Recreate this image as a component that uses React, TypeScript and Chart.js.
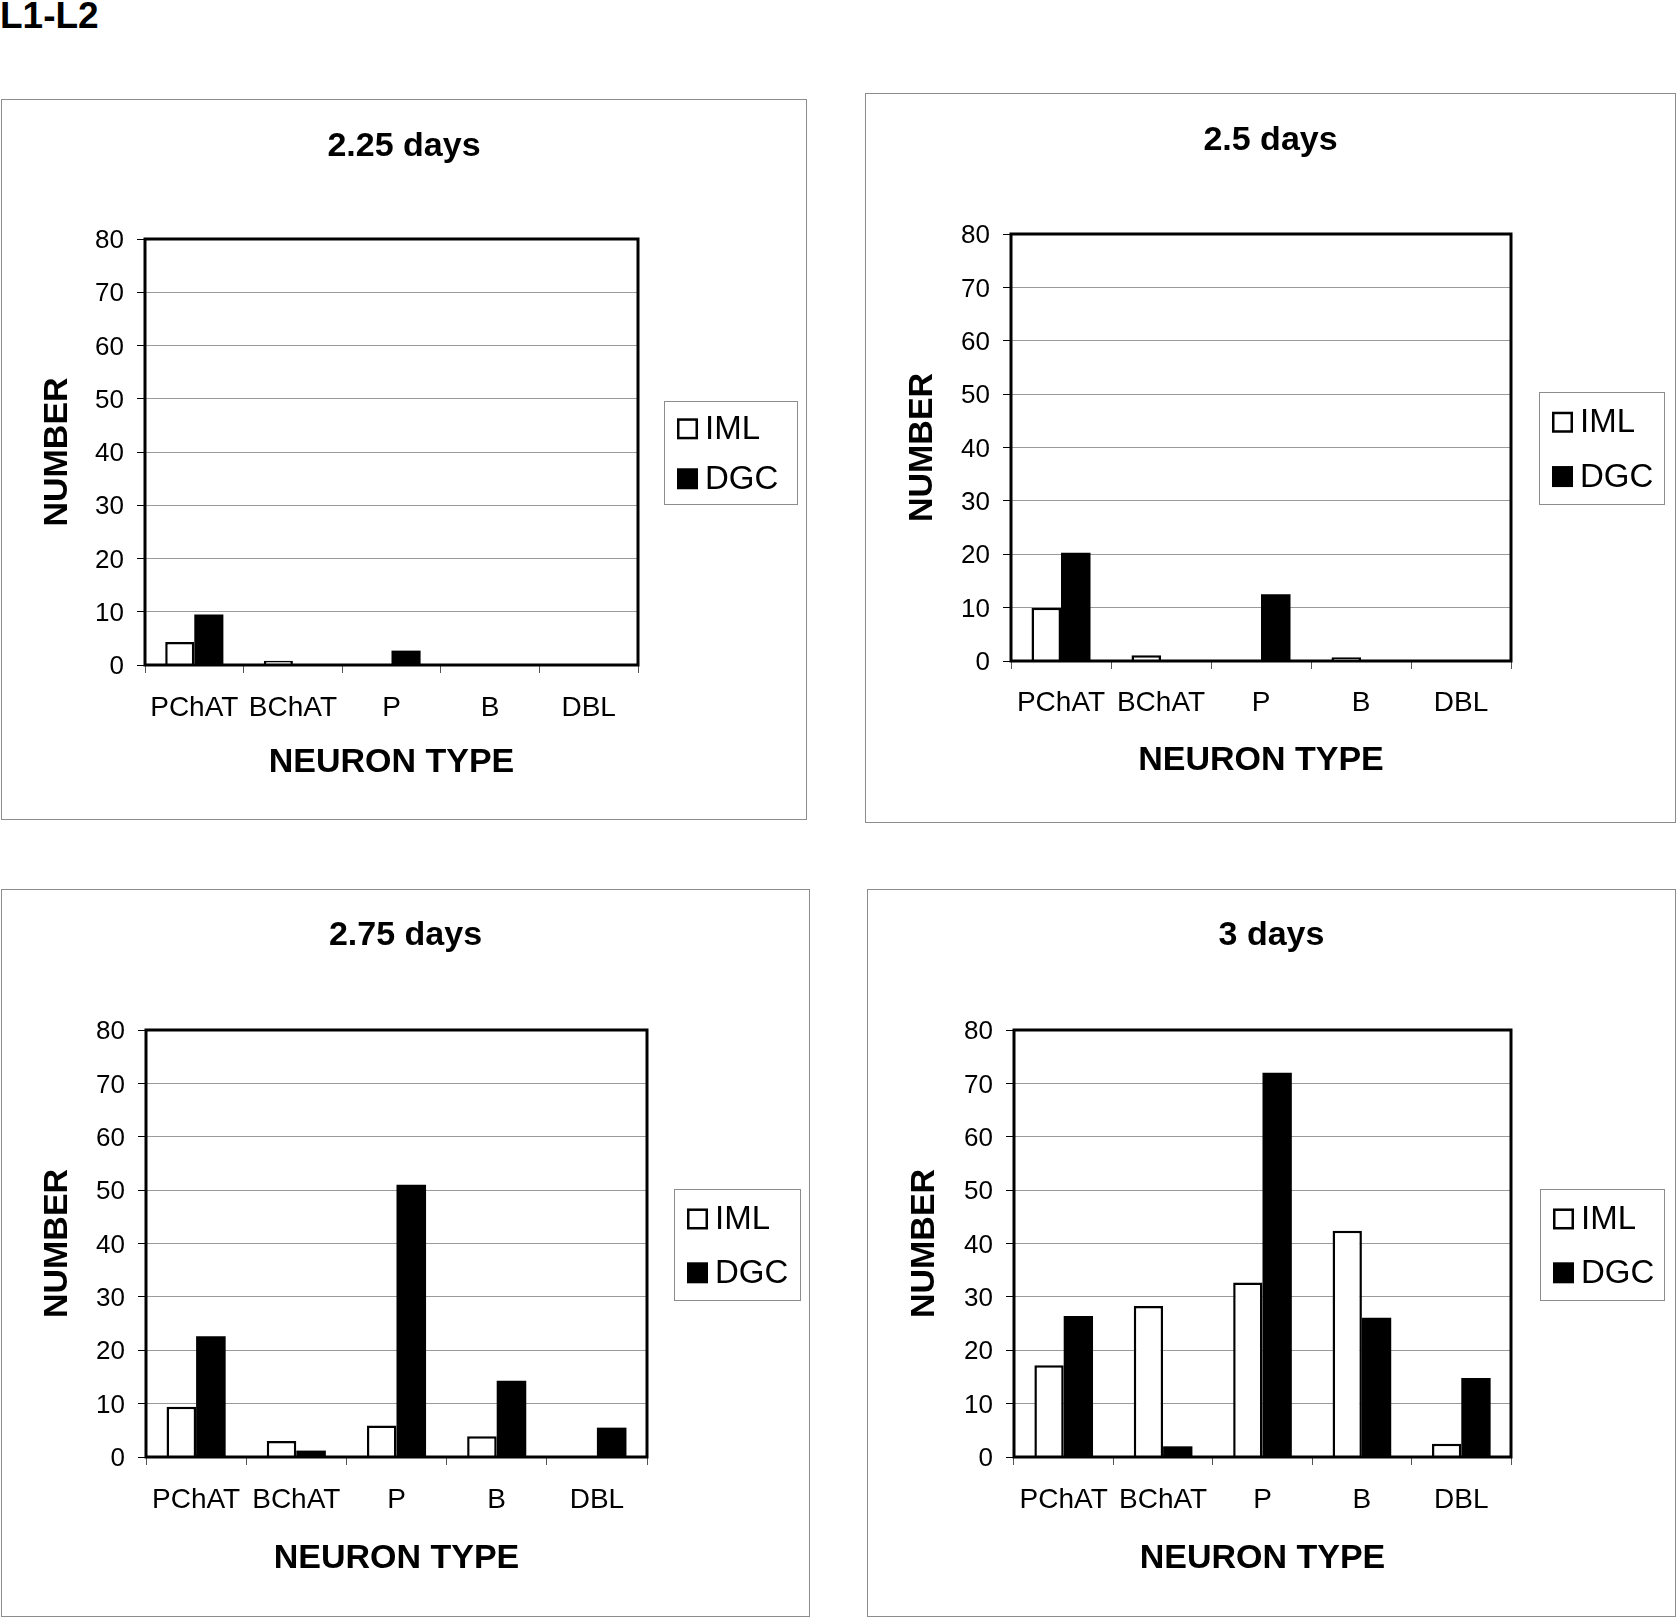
import React, { useEffect, useRef } from "react";
import { Chart, registerables } from "chart.js";

Chart.register(...registerables);

// ---------------- data ----------------
const FIGURE_LABEL = "L1-L2";
const CATEGORIES = ["PChAT", "BChAT", "P", "B", "DBL"];
const SERIES_NAMES = ["IML", "DGC"];
const PANEL_TITLES = ["2.25 days", "2.5 days", "2.75 days", "3 days"];
const X_AXIS_TITLE = "NEURON TYPE";
const Y_AXIS_TITLE = "NUMBER";
const Y_MIN = 0;
const Y_MAX = 80;
const Y_STEP = 10;

const IML_225 = [4.3, 0.8, 0, 0, 0];
const DGC_225 = [9.5, 0, 2.7, 0, 0];
const IML_250 = [10, 1.1, 0, 0.7, 0];
const DGC_250 = [20.3, 0, 12.5, 0, 0];
const IML_275 = [9.4, 3.0, 5.9, 3.9, 0];
const DGC_275 = [22.6, 1.2, 51, 14.3, 5.5];
const IML_300 = [17.2, 28.3, 32.7, 42.4, 2.5];
const DGC_300 = [26.4, 2.0, 72, 26.1, 14.8];

const PANEL_IML = [IML_225, IML_250, IML_275, IML_300];
const PANEL_DGC = [DGC_225, DGC_250, DGC_275, DGC_300];

// ---------------- layout (page pixels) ----------------
type Layout = {
  box: { x: number; y: number; w: number; h: number };
  plot: { l: number; t: number; r: number; b: number };
  titleCy: number;
  numberCx: number;
  neuronCy: number;
  xLabelOffset: number;
  legend: { x: number; y: number; w: number; h: number };
};

const LAYOUTS: Layout[] = [
  {
    box: { x: 1, y: 99, w: 806, h: 721 },
    plot: { l: 145, t: 239, r: 638, b: 665 },
    titleCy: 146.5,
    numberCx: 58,
    neuronCy: 762.5,
    xLabelOffset: 43,
    legend: { x: 664, y: 401, w: 133, h: 103 },
  },
  {
    box: { x: 865, y: 93, w: 811, h: 730 },
    plot: { l: 1011, t: 234, r: 1511, b: 661 },
    titleCy: 140.5,
    numberCx: 923,
    neuronCy: 760.5,
    xLabelOffset: 42,
    legend: { x: 1539, y: 392, w: 125, h: 112 },
  },
  {
    box: { x: 1, y: 889, w: 809, h: 728 },
    plot: { l: 146, t: 1030, r: 647, b: 1457 },
    titleCy: 935.5,
    numberCx: 58,
    neuronCy: 1558.5,
    xLabelOffset: 43.5,
    legend: { x: 674, y: 1189, w: 126, h: 111 },
  },
  {
    box: { x: 867, y: 889, w: 809, h: 728 },
    plot: { l: 1014, t: 1030, r: 1511, b: 1457 },
    titleCy: 935.5,
    numberCx: 925,
    neuronCy: 1558.5,
    xLabelOffset: 43.5,
    legend: { x: 1540, y: 1189, w: 124, h: 111 },
  },
];

const FONT = "Arial, 'Liberation Sans', sans-serif";
const BOLD_SIZE = 34;
const BOLD_LH = BOLD_SIZE * 1.2;
const X_TICK_SIZE = 28;
const Y_TICK_SIZE = 26;
const LEGEND_SIZE = 33;
const TICK_LEN = 8;

function Panel({ index }: { index: number }) {
  const ref = useRef<HTMLCanvasElement | null>(null);
  const layout = LAYOUTS[index];

  useEffect(() => {
    if (!ref.current) return;
    const { box, plot, legend } = layout;

    const framePlugin = {
      id: "frame",
      afterDatasetsDraw(chart: any) {
        const { ctx, chartArea: a } = chart;
        ctx.save();
        ctx.strokeStyle = "#000";
        ctx.lineWidth = 3;
        ctx.strokeRect(a.left, a.top, a.right - a.left, a.bottom - a.top);
        ctx.restore();
      },
      afterDraw(chart: any) {
        const ctx = chart.ctx;
        ctx.save();
        // panel border
        ctx.strokeStyle = "#8c8c8c";
        ctx.lineWidth = 1;
        ctx.strokeRect(0.5, 0.5, chart.width - 1, chart.height - 1);
        // legend
        const lx = legend.x - box.x;
        const ly = legend.y - box.y;
        ctx.strokeRect(lx + 0.5, ly + 0.5, legend.w, legend.h);
        const ds = chart.data.datasets;
        const centers = [ly + legend.h * 0.27, ly + legend.h * 0.755];
        const sw = 21;
        const sx = lx + 13;
        ds.forEach((d: any, i: number) => {
          const cy = centers[i];
          if (i === 0) {
            ctx.fillStyle = "#fff";
            ctx.fillRect(sx, cy - sw / 2, sw, sw);
            ctx.strokeStyle = "#000";
            ctx.lineWidth = 2.5;
            ctx.strokeRect(sx + 1.25, cy - sw / 2 + 1.25, sw - 2.5, sw - 2.5);
          } else {
            ctx.fillStyle = "#000";
            ctx.fillRect(sx, cy - sw / 2, sw, sw);
          }
          ctx.fillStyle = "#000";
          ctx.font = `${LEGEND_SIZE}px ${FONT}`;
          ctx.textBaseline = "middle";
          ctx.textAlign = "left";
          ctx.fillText(d.label, sx + sw + 7, cy + 1);
        });
        ctx.restore();
      },
    };

    const chart = new Chart(ref.current, {
      type: "bar",
      data: {
        labels: CATEGORIES,
        datasets: [
          {
            label: SERIES_NAMES[0],
            data: PANEL_IML[index],
            backgroundColor: "#ffffff",
            borderColor: "#000000",
            borderWidth: 2.5,
            yAxisID: "y",
            categoryPercentage: 0.59,
            barPercentage: 1,
          },
          {
            label: SERIES_NAMES[1],
            data: PANEL_DGC[index],
            backgroundColor: "#000000",
            borderColor: "#000000",
            borderWidth: 0,
            yAxisID: "y",
            categoryPercentage: 0.59,
            barPercentage: 1,
          },
        ],
      },
      options: {
        responsive: false,
        animation: false,
        devicePixelRatio: 1,
        layout: { padding: 0 },
        plugins: {
          legend: { display: false },
          tooltip: { enabled: false },
          title: {
            display: true,
            text: PANEL_TITLES[index],
            color: "#000",
            font: { family: FONT, size: BOLD_SIZE, weight: "bold", lineHeight: 1.2 },
            padding: {
              top: layout.titleCy - box.y - BOLD_LH / 2,
              bottom: plot.t - layout.titleCy - BOLD_LH / 2,
            },
          },
        },
        scales: {
          x: {
            type: "category",
            offset: true,
            grid: {
              display: true,
              offset: true,
              drawOnChartArea: false,
              drawTicks: true,
              tickLength: TICK_LEN,
              tickColor: "#555",
              color: "#555",
              lineWidth: 1,
            },
            border: { display: false },
            ticks: {
              color: "#000",
              font: { family: FONT, size: X_TICK_SIZE },
              padding: layout.xLabelOffset - TICK_LEN - (X_TICK_SIZE * 1.2) / 2,
              maxRotation: 0,
              autoSkip: false,
            },
            title: {
              display: true,
              text: X_AXIS_TITLE,
              color: "#000",
              font: { family: FONT, size: BOLD_SIZE, weight: "bold", lineHeight: 1.2 },
              padding: { top: 0, bottom: box.y + box.h - layout.neuronCy - BOLD_LH / 2 },
            },
            afterFit(s: any) {
              s.height = box.y + box.h - plot.b;
            },
          },
          y: {
            type: "linear",
            position: "left",
            min: Y_MIN,
            max: Y_MAX,
            ticks: {
              stepSize: Y_STEP,
              color: "#000",
              font: { family: FONT, size: Y_TICK_SIZE },
              padding: 13,
              labelOffset: 2,
            },
            grid: {
              color: "#9a9a9a",
              lineWidth: 1,
              drawTicks: true,
              tickLength: TICK_LEN,
              tickColor: "#000",
            },
            border: { display: false },
            title: {
              display: true,
              text: Y_AXIS_TITLE,
              color: "#000",
              font: { family: FONT, size: BOLD_SIZE, weight: "bold", lineHeight: 1.2 },
              padding: { top: layout.numberCx - box.x - BOLD_LH / 2, bottom: 0 },
            },
            afterFit(s: any) {
              s.width = plot.l - box.x;
            },
          },
          yR: {
            type: "linear",
            position: "right",
            display: true,
            grid: { display: false },
            ticks: { display: false },
            border: { display: false },
            afterFit(s: any) {
              s.width = box.x + box.w - plot.r;
            },
          },
        },
      } as any,
      plugins: [framePlugin],
    });
    return () => chart.destroy();
  }, [index]);

  return (
    <canvas
      ref={ref}
      width={layout.box.w}
      height={layout.box.h}
      style={{
        position: "absolute",
        left: layout.box.x,
        top: layout.box.y,
        width: layout.box.w,
        height: layout.box.h,
      }}
    />
  );
}

export default function App() {
  return (
    <div
      style={{
        position: "absolute",
        left: 0,
        top: 0,
        width: 1676,
        height: 1619,
        background: "#fff",
        overflow: "hidden",
      }}
    >
      <div
        style={{
          position: "absolute",
          left: 0,
          top: -3,
          fontFamily: FONT,
          fontWeight: "bold",
          fontSize: 37,
          lineHeight: 1,
          color: "#000",
        }}
      >
        {FIGURE_LABEL}
      </div>
      {PANEL_TITLES.map((_, i) => (
        <Panel key={i} index={i} />
      ))}
    </div>
  );
}
